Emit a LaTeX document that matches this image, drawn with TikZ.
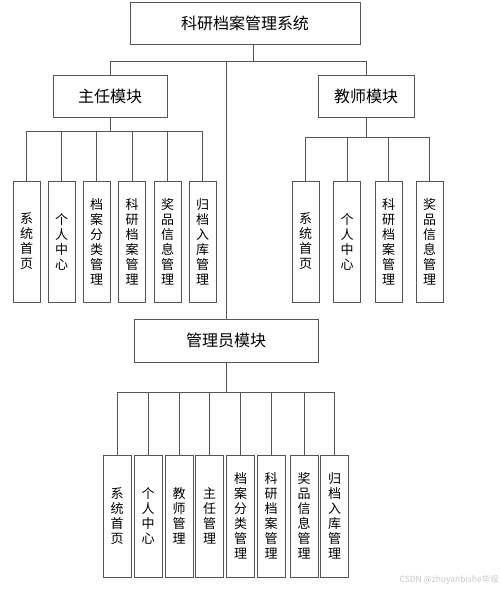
\documentclass[tikz,border=0pt]{standalone}
\usepackage{fontspec}
\setmainfont{Noto Sans CJK SC}
\definecolor{linec}{RGB}{85,85,85}
\definecolor{wm}{RGB}{200,200,200}
\begin{document}
\begin{tikzpicture}[x=1pt,y=-1pt,
  box/.style={draw=linec, line width=0.8pt, inner sep=0pt, fill=white},
  head/.style={box, font=\fontsize{16}{18}\selectfont},
  leaf/.style={box, minimum width=27pt, minimum height=121pt, align=center, font=\fontsize{13}{15}\selectfont},
  link/.style={draw=linec, line width=0.8pt}]
\useasboundingbox[fill=white] (0,0) rectangle (500,590);

% heads
\node[head, minimum width=230pt, minimum height=42pt] (top) at (245,23) {科研档案管理系统};
\node[head, minimum width=114pt, minimum height=42pt] (zr) at (110,96) {主任模块};
\node[head, minimum width=96pt, minimum height=42pt] (js) at (366,96) {教师模块};
\node[head, minimum width=184pt, minimum height=43pt] (gl) at (226,340.5) {管理员模块};

% 主任 children
\node[leaf] (z1) at (26.5,241.5) {系\\统\\首\\页};
\node[leaf] (z2) at (61.5,241.5) {个\\人\\中\\心};
\node[leaf] (z3) at (96.5,241.5) {档\\案\\分\\类\\管\\理};
\node[leaf] (z4) at (132,241.5) {科\\研\\档\\案\\管\\理};
\node[leaf] (z5) at (167.5,241.5) {奖\\品\\信\\息\\管\\理};
\node[leaf] (z6) at (202.5,241.5) {归\\档\\入\\库\\管\\理};

% 教师 children
\node[leaf] (j1) at (305.5,241.5) {系\\统\\首\\页};
\node[leaf] (j2) at (347,241.5) {个\\人\\中\\心};
\node[leaf] (j3) at (388.5,241.5) {科\\研\\档\\案\\管\\理};
\node[leaf] (j4) at (429.5,241.5) {奖\\品\\信\\息\\管\\理};

% 管理员 children
\node[leaf, minimum width=28pt, minimum height=122pt] (g1) at (117,516) {系\\统\\首\\页};
\node[leaf, minimum width=28pt, minimum height=122pt] (g2) at (148,516) {个\\人\\中\\心};
\node[leaf, minimum width=28pt, minimum height=122pt] (g3) at (179,516) {教\\师\\管\\理};
\node[leaf, minimum width=28pt, minimum height=122pt] (g4) at (209.5,516) {主\\任\\管\\理};
\node[leaf, minimum width=28pt, minimum height=122pt] (g5) at (240.5,516) {档\\案\\分\\类\\管\\理};
\node[leaf, minimum width=28pt, minimum height=122pt] (g6) at (271,516) {科\\研\\档\\案\\管\\理};
\node[leaf, minimum width=28pt, minimum height=122pt] (g7) at (304,516) {奖\\品\\信\\息\\管\\理};
\node[leaf, minimum width=28pt, minimum height=122pt] (g8) at (334.5,516) {归\\档\\入\\库\\管\\理};

% buses
\coordinate (b0) at (253,61);
\coordinate (bz) at (110,131);
\coordinate (bj) at (366,137);
\coordinate (bg) at (226,392);

% top level
\draw[link] (top.south -| b0) -- (b0);
\draw[link] (zr.north) |- (js.north |- b0) -- (js.north);
\draw[link] (b0 -| gl.north) -- (gl.north);

% 主任 level
\draw[link] (zr.south) -- (bz);
\draw[link] (z1.north |- bz) -- (z6.north |- bz);
\foreach \n in {z1,z2,z3,z4,z5,z6}{\draw[link] (\n.north |- bz) -- (\n.north);}

% 教师 level
\draw[link] (js.south) -- (bj);
\draw[link] (j1.north |- bj) -- (j4.north |- bj);
\foreach \n in {j1,j2,j3,j4}{\draw[link] (\n.north |- bj) -- (\n.north);}

% 管理员 level
\draw[link] (gl.south) -- (bg);
\draw[link] (g1.north |- bg) -- (g8.north |- bg);
\foreach \n in {g1,g2,g3,g4,g5,g6,g7,g8}{\draw[link] (\n.north |- bg) -- (\n.north);}

% watermark
\node[anchor=east, text=wm, font=\fontsize{8.5}{10}\selectfont, inner sep=0pt] (wmk) at (499,580) {CSDN @zhuyanbishe毕设};
\end{tikzpicture}
\end{document}
